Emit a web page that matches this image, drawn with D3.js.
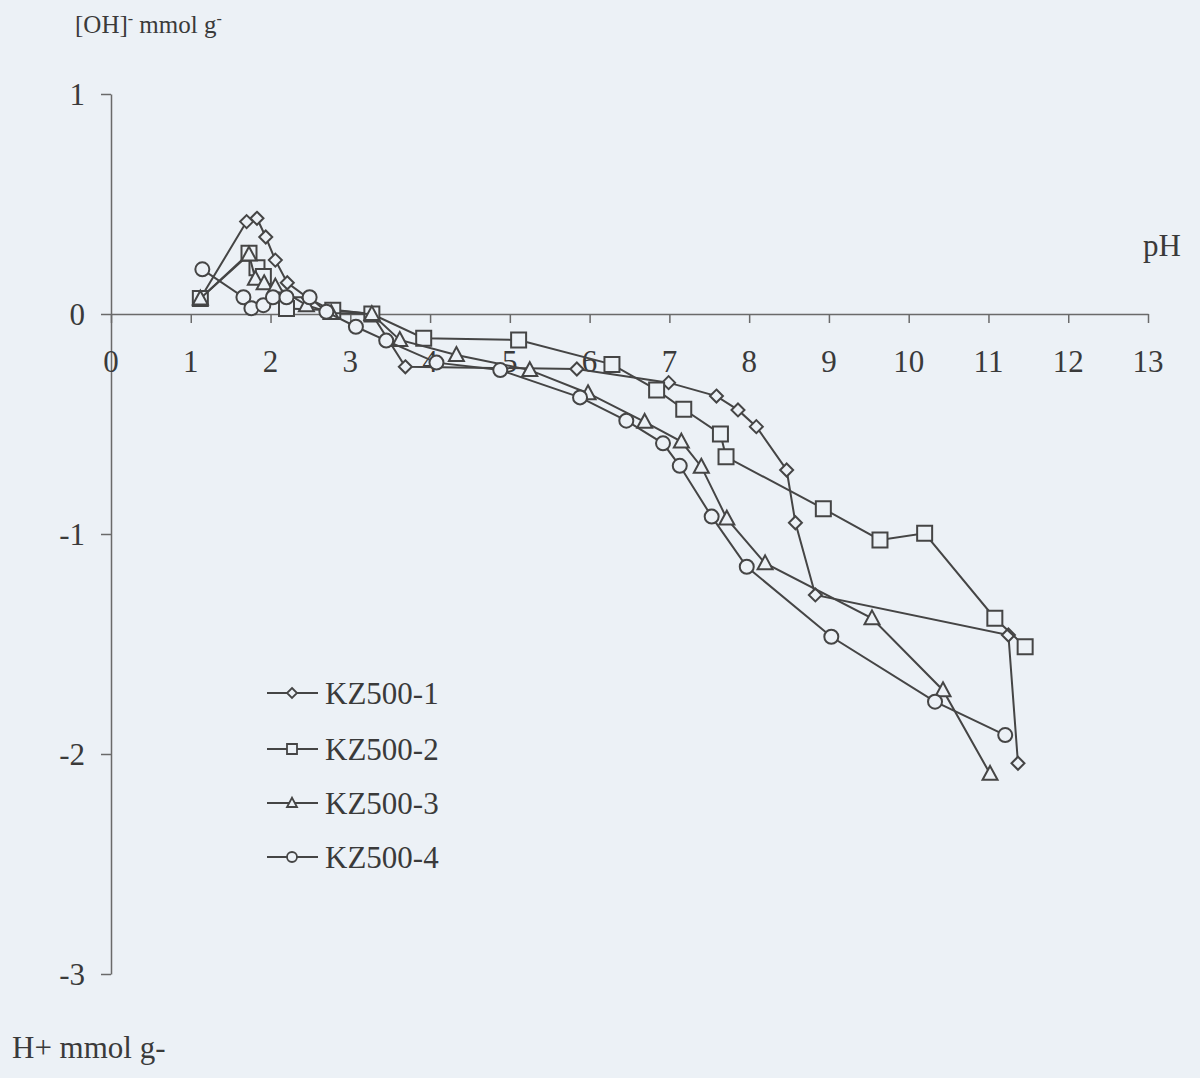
<!DOCTYPE html>
<html>
<head>
<meta charset="utf-8">
<script src="https://cdn.jsdelivr.net/npm/d3@7"></script>
<style>
  html, body { margin: 0; padding: 0; background: #ecf1f6; }
  svg { display: block; }
  text { font-family: "Liberation Serif", "Times New Roman", serif; fill: #3a3a3a; }
</style>
</head>
<body>
<svg id="chart" width="1200" height="1078"></svg>
<script>
// pH titration curves, surface charge in mmol/g
const seriesNames = ["KZ500-1", "KZ500-2", "KZ500-3", "KZ500-4"];
const markerShapes = ["diamond", "square", "triangle", "circle"];

const kz1pH  = [1.12, 1.70, 1.83, 1.94, 2.06, 2.21, 2.48, 2.75, 3.27, 3.69, 5.84, 6.99, 7.59, 7.86, 8.09, 8.47, 8.58, 8.83, 11.25, 11.37];
const kz1Val = [0.07, 0.42, 0.435, 0.35, 0.245, 0.142, 0.07, 0.02, 0.0, -0.24, -0.25, -0.312, -0.373, -0.436, -0.512, -0.709, -0.949, -1.277, -1.459, -2.042];

const kz2pH  = [1.12, 1.73, 1.83, 1.91, 2.20, 2.78, 3.27, 3.92, 5.11, 6.28, 6.84, 7.18, 7.64, 7.71, 8.93, 9.64, 10.20, 11.08, 11.46];
const kz2Val = [0.07, 0.276, 0.21, 0.17, 0.025, 0.017, 0.0, -0.11, -0.118, -0.229, -0.345, -0.433, -0.545, -0.649, -0.885, -1.027, -0.997, -1.383, -1.512];

const kz3pH  = [1.12, 1.73, 1.81, 1.92, 2.06, 2.45, 2.76, 3.27, 3.62, 4.33, 5.25, 5.98, 6.69, 7.15, 7.40, 7.72, 8.20, 9.54, 10.43, 11.02];
const kz3Val = [0.07, 0.27, 0.16, 0.14, 0.125, 0.04, 0.005, 0.0, -0.118, -0.186, -0.255, -0.36, -0.49, -0.58, -0.694, -0.93, -1.133, -1.383, -1.71, -2.09];

const kz4pH  = [1.145, 1.66, 1.76, 1.91, 2.03, 2.20, 2.49, 2.70, 3.07, 3.45, 4.08, 4.88, 5.88, 6.46, 6.92, 7.13, 7.53, 7.97, 9.03, 10.33, 11.21];
const kz4Val = [0.203, 0.076, 0.026, 0.04, 0.076, 0.076, 0.076, 0.01, -0.058, -0.121, -0.221, -0.255, -0.379, -0.485, -0.588, -0.69, -0.921, -1.149, -1.467, -1.762, -1.914];

const xTicks = [0, 1, 2, 3, 4, 5, 6, 7, 8, 9, 10, 11, 12, 13];
const yTicks = [1, 0, -1, -2, -3];

const seriesPH  = [kz1pH, kz2pH, kz3pH, kz4pH];
const seriesVal = [kz1Val, kz2Val, kz3Val, kz4Val];

const ink = "#454545";
const paper = "#ecf1f6";

const svg = d3.select("#chart");

const x = d3.scaleLinear().domain([0, 13]).range([111, 1148]);
const y = d3.scaleLinear().domain([-3, 1]).range([974, 94]);

// y axis: ticks on the left, no labels from the axis itself
const yAxis = svg.append("g")
  .attr("transform", `translate(${x(0)},0)`)
  .call(d3.axisLeft(y).tickValues(yTicks).tickSize(10).tickSizeOuter(0).tickFormat(""));
yAxis.selectAll("path, line").attr("stroke", "#6a6a6a").attr("stroke-width", 1.5);

// x axis crosses at zero, ticks pointing down
const xAxis = svg.append("g")
  .attr("transform", `translate(0,${y(0)})`)
  .call(d3.axisBottom(x).tickValues(xTicks).tickSize(9).tickSizeOuter(0).tickFormat(""));
xAxis.selectAll("path, line").attr("stroke", "#6a6a6a").attr("stroke-width", 1.5);

// tick labels
svg.append("g").selectAll("text").data(xTicks).join("text")
  .attr("x", d => x(d)).attr("y", 372)
  .attr("text-anchor", "middle")
  .attr("font-size", 31)
  .text(d => d);

svg.append("g").selectAll("text").data(yTicks).join("text")
  .attr("x", 85).attr("y", d => y(d) + 11)
  .attr("text-anchor", "end")
  .attr("font-size", 31)
  .text(d => d);

// axis titles
const topTitle = svg.append("text").attr("x", 75).attr("y", 33).attr("font-size", 25);
topTitle.append("tspan").text("[OH]");
topTitle.append("tspan").attr("dy", -9).attr("font-size", 16).text("-");
topTitle.append("tspan").attr("dy", 9).text(" mmol g");
topTitle.append("tspan").attr("dy", -9).attr("font-size", 16).text("-");

svg.append("text").attr("x", 1143).attr("y", 256).attr("font-size", 31).text("pH");
svg.append("text").attr("x", 12).attr("y", 1058).attr("font-size", 31).text("H+ mmol g-");

// marker path generators
function markerPath(shape, s) {
  const h = s / 2;
  if (shape === "diamond") return `M0,${-h}L${h},0L0,${h}L${-h},0Z`;
  if (shape === "square") return `M${-h},${-h}H${h}V${h}H${-h}Z`;
  if (shape === "triangle") return `M0,${-h * 1.05}L${h},${h * 0.8}L${-h},${h * 0.8}Z`;
  return d3.path ? `M${h},0A${h},${h} 0 1,1 ${-h},0A${h},${h} 0 1,1 ${h},0Z` : "";
}
const markerSize = { diamond: 13, square: 15, triangle: 15, circle: 14 };

const line = d3.line().x(d => x(d[0])).y(d => y(d[1]));

seriesNames.forEach((name, i) => {
  const pts = seriesPH[i].map((p, k) => [p, seriesVal[i][k]]);
  const g = svg.append("g").attr("class", "series");
  g.append("path").datum(pts)
    .attr("d", line)
    .attr("fill", "none")
    .attr("stroke", ink)
    .attr("stroke-width", 2);
  g.selectAll("path.mk").data(pts).join("path")
    .attr("class", "mk")
    .attr("transform", d => `translate(${x(d[0])},${y(d[1])})`)
    .attr("d", markerPath(markerShapes[i], markerSize[markerShapes[i]]))
    .attr("fill", paper)
    .attr("stroke", ink)
    .attr("stroke-width", 2);
});

// legend
const legendRows = [693, 749, 803, 857];
const legend = svg.append("g");
seriesNames.forEach((name, i) => {
  const ly = legendRows[i];
  legend.append("line")
    .attr("x1", 267).attr("x2", 318).attr("y1", ly).attr("y2", ly)
    .attr("stroke", ink).attr("stroke-width", 2);
  legend.append("path")
    .attr("transform", `translate(292,${ly})`)
    .attr("d", markerPath(markerShapes[i], 10))
    .attr("fill", paper).attr("stroke", ink).attr("stroke-width", 1.8);
  legend.append("text")
    .attr("x", 325).attr("y", ly + 11)
    .attr("font-size", 31)
    .text(name);
});
</script>
</body>
</html>
